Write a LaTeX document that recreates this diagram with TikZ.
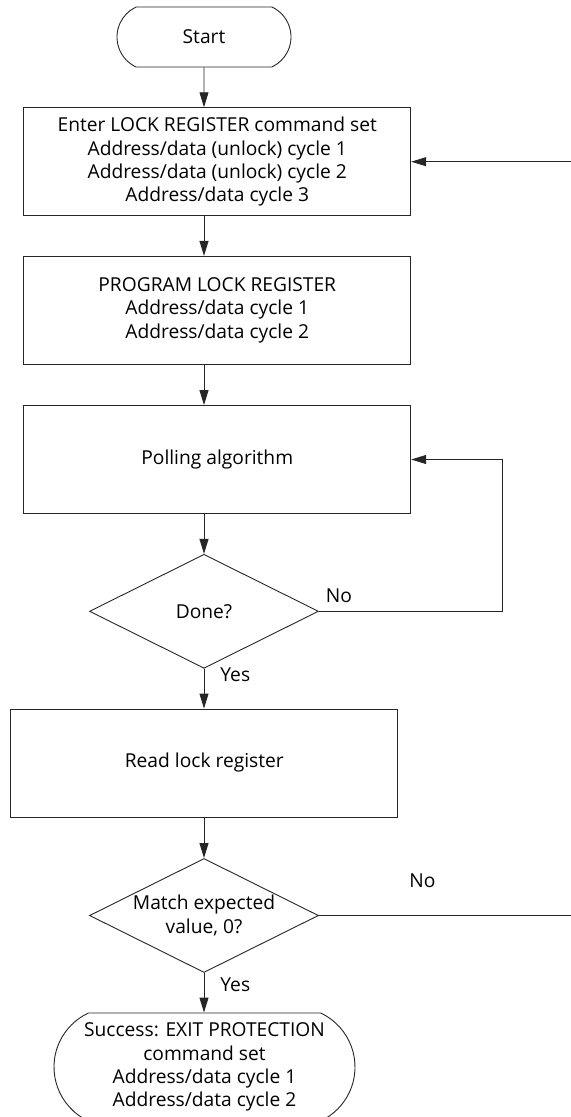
\documentclass[tikz,border=0pt]{standalone}
\usepackage{fontspec}
\setmainfont{Open Sans}
\usepackage{tikz}
\usetikzlibrary{
  arrows.meta,
  shapes.geometric,
  shapes.misc
}

\begin{document}
\begin{tikzpicture}[x=1bp, y=-1bp,
  font=\fontsize{19.2bp}{23.2bp}\selectfont,
  stepbox/.style={draw=black!85, line width=0.9bp, rectangle, inner sep=0pt,
    align=center, minimum width=387bp, minimum height=108bp},
  terminal/.style={draw=black!85, line width=0.9bp, rounded rectangle,
    rounded rectangle arc length=130, inner sep=0pt, align=center},
  decision/.style={draw=black!85, line width=0.9bp, diamond, shape aspect=2,
    inner sep=0pt, align=center, minimum width=229bp, minimum height=114bp},
  flow/.style={draw=black!85, line width=0.9bp, -{Triangle[length=15bp,width=9bp]}},
  link/.style={draw=black!85, line width=0.9bp},
  tag/.style={inner sep=0pt}]
  \useasboundingbox (0,0) rectangle (571,1117);

  % Steps
  \node[terminal, minimum width=174bp, minimum height=60bp] (start) at (204,37) {Start};
  \node[stepbox] (enter) at (217.25,161.7) {Enter LOCK REGISTER command set\\Address/data (unlock) cycle 1\\Address/data (unlock) cycle 2\\Address/data cycle 3};
  \node[stepbox] (prog) at (217.25,310.3) {PROGRAM LOCK REGISTER\\Address/data cycle 1\\Address/data cycle 2};
  \node[stepbox] (poll) at (217.25,459.5) {Polling algorithm};
  \node[decision] (done) at (204,611.3) {Done?};
  \node[stepbox] (read) at (204.3,763) {Read lock register};
  \node[decision] (match) at (204,915.5) {Match expected\\value, 0?};
  \node[terminal, minimum width=301bp, minimum height=108bp] (finish) at (204.5,1067) {Success: EXIT PROTECTION\\command set\\Address/data cycle 1\\Address/data cycle 2};

  % Branch labels
  \node[tag] (doneno) at (339,596) {No};
  \node[tag] (doneyes) at (235.3,675) {Yes};
  \node[tag] (matchno) at (422.5,881) {No};
  \node[tag] (matchyes) at (235.3,985) {Yes};

  % Main flow
  \draw[flow] (start) -- (start |- enter.north);
  \draw[flow] (enter.south -| start) -- (start |- prog.north);
  \draw[flow] (prog.south -| start) -- (start |- poll.north);
  \draw[flow] (poll.south -| done) -- (done.north);
  \draw[flow] (done.south) -- (done.south |- read.north);
  \draw[flow] (read.south -| match) -- (match.north);
  \draw[flow] (match.south) -- (match.south |- finish.north);

  % Loops
  \coordinate (doneloop) at (502,611.3);
  \draw[flow] (done.east) -- (doneloop) |- (poll.east);
  \coordinate (matchout) at (571,915.5);
  \coordinate (retin) at (571,161.7);
  \draw[link] (match.east) -- (matchout);
  \draw[flow] (retin) -- (enter.east);
\end{tikzpicture}
\end{document}
